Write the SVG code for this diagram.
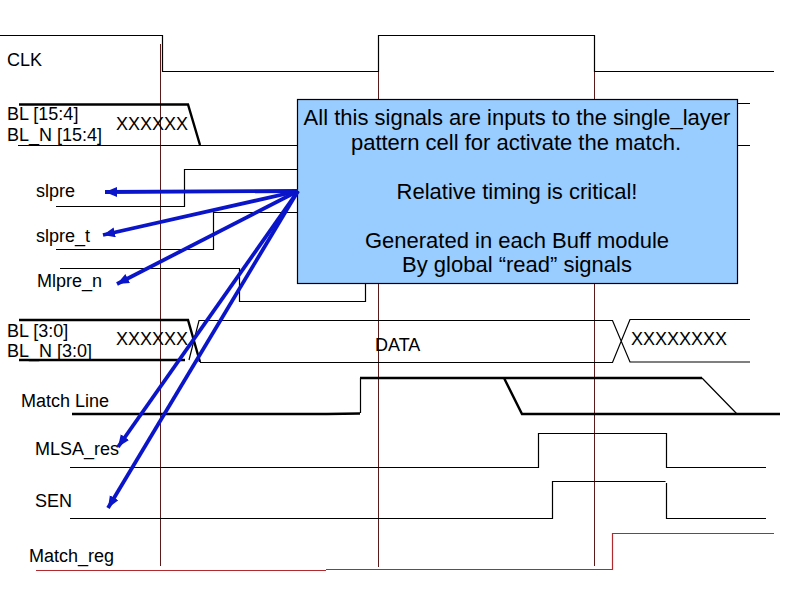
<svg xmlns="http://www.w3.org/2000/svg" width="794" height="595" viewBox="0 0 794 595">
<style>
.s{fill:none;stroke:#000;stroke-width:1.2}
.t{fill:none;stroke:#000;stroke-width:2.4}
.g{fill:none;stroke:#5a1a1a;stroke-width:1}
.r{fill:none;stroke:#b02a30;stroke-width:1.2}
.a{stroke:#0a14c8;stroke-width:3.8;marker-end:url(#h)}
text{font-family:"Liberation Sans",Arial,sans-serif;font-size:18px;fill:#000}
.b{font-size:22px;text-anchor:middle}
</style>
<defs><marker id="h" markerUnits="userSpaceOnUse" markerWidth="14" markerHeight="12" refX="12" refY="5" orient="auto"><path d="M0 0L12 5L0 10Z" fill="#0a14c8"/></marker></defs>
<rect width="794" height="595" fill="#fff"/>
<g id="guides">
<path class="g" d="M160.500 44V566M378.500 36V567M594.500 36V566"/>
</g>
<g id="waves">
<path class="s" d="M0 35.500H162.500V71.500H378.500V35.500H594.500V71.500H774"/>
<path class="t" d="M19 104.500H188L200 145"/>
<path class="s" d="M18 145.500H300M736 103.500H750M736 145.500H750"/>
<path class="s" d="M56 206.500H184.500V169.500H300M56 249.500H213.500V212.500H300M60 268.500H239.500V301.500H365.500V283"/>
<path class="t" d="M19 320H188L200 362M19 360H185"/>
<path class="s" d="M189 360L199 320.500H612.500L630 362H750M200 362.500H612.500L630 319.500H750"/>
<path class="t" d="M72 414H327L360 413.500M360 378H702M504 378L522 414H780"/>
<path class="s" d="M360.500 413V378M702 378L737 414"/>
<path class="s" d="M70 467.500H538.500V433.500H666.500V467.500H766M70 518.500H552.500V481.500H665.500M666.500 483V518.500H766"/>
<path class="r" d="M36 570.500H326M326 569.500H612.500V533.500H774"/>
</g>
<g id="note">
<rect x="297.500" y="99.500" width="440" height="184" fill="#99ccff" stroke="#000" stroke-width="1.200"/>
<text class="b" x="517" y="125">All this signals are inputs to the single_layer</text>
<text class="b" x="516" y="149.500">pattern cell for activate the match.</text>
<text class="b" x="517" y="199">Relative timing is critical!</text>
<text class="b" x="517" y="247.500">Generated in each Buff module</text>
<text class="b" x="517" y="271.500">By global “read” signals</text>
</g>
<g id="labels">
<text x="7" y="65.500">CLK</text>
<text x="7" y="120">BL [15:4]</text>
<text x="7" y="140.500">BL_N [15:4]</text>
<text x="116" y="130">XXXXXX</text>
<text x="36" y="196.500">slpre</text>
<text x="36" y="241.500">slpre_t</text>
<text x="37" y="286.500">Mlpre_n</text>
<text x="7" y="337">BL [3:0]</text>
<text x="7" y="356.500">BL_N [3:0]</text>
<text x="116" y="345">XXXXXX</text>
<text x="375" y="350.500">DATA</text>
<text x="631" y="345">XXXXXXXX</text>
<text x="21" y="406.500">Match Line</text>
<text x="35" y="454.500">MLSA_res</text>
<text x="35" y="507">SEN</text>
<text x="29" y="561.500">Match_reg</text>
</g>
<g id="connectors">
<line class="a" x1="298" y1="191" x2="105" y2="192"/>
<line class="a" x1="298" y1="191" x2="103" y2="235"/>
<line class="a" x1="298" y1="191" x2="117" y2="284"/>
<line class="a" x1="298" y1="191" x2="118" y2="447"/>
<line class="a" x1="298" y1="191" x2="108" y2="508"/>
</g>
</svg>
